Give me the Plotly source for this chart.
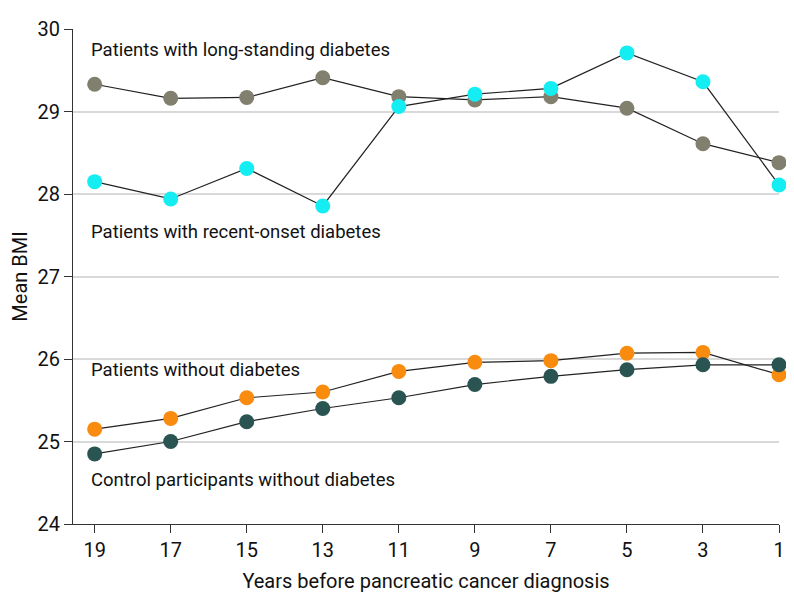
import plotly.graph_objects as go

years = [19, 17, 15, 13, 11, 9, 7, 5, 3, 1]
long_standing = [29.33, 29.16, 29.17, 29.41, 29.18, 29.14, 29.18, 29.04, 28.61, 28.38]
recent_onset = [28.15, 27.94, 28.31, 27.855, 29.06, 29.21, 29.28, 29.71, 29.36, 28.11]
without_diab = [25.15, 25.28, 25.53, 25.60, 25.85, 25.96, 25.98, 26.07, 26.08, 25.81]
controls = [24.85, 25.00, 25.24, 25.40, 25.53, 25.69, 25.79, 25.87, 25.93, 25.93]

series = [
    ("Patients with long-standing diabetes", long_standing, "#817f6d", 29.75),
    ("Patients with recent-onset diabetes", recent_onset, "#14eef2", 27.54),
    ("Patients without diabetes", without_diab, "#f98b0e", 25.87),
    ("Control participants without diabetes", controls, "#2a5451", 24.53),
]

FONT = "Roboto"
fig = go.Figure()
for name, vals, color, ly in series:
    fig.add_trace(go.Scatter(
        x=years, y=vals, mode="lines+markers", name=name,
        line=dict(color="#222222", width=1.2),
        marker=dict(color=color, size=15, line=dict(width=0)),
        showlegend=False, cliponaxis=False,
    ))
    fig.add_annotation(text=name, xref="paper", x=0.022, xanchor="left",
                       yref="y", y=ly, yanchor="middle", showarrow=False,
                       font=dict(family=FONT, size=18.5, color="#111111"))

fig.update_layout(
    width=794, height=609,
    margin=dict(l=65, r=23, t=21, b=93, autoexpand=False),
    plot_bgcolor="white", paper_bgcolor="white",
    font=dict(family=FONT, size=18, color="#111111"),
    xaxis=dict(
        range=[19.57, 1], tickvals=years, ticktext=[str(y) for y in years],
        showgrid=False, zeroline=False, showline=True, linecolor="#333333", linewidth=1,
        ticks="outside", ticklen=8, tickcolor="#333333",
        title=dict(text="Years before pancreatic cancer diagnosis", standoff=12,
                   font=dict(size=20)),
        tickfont=dict(size=20),
    ),
    yaxis=dict(
        range=[24, 30], tickvals=[24, 25, 26, 27, 28, 29, 30],
        showgrid=True, gridcolor="#d9d9d9", gridwidth=1.5, zeroline=False,
        showline=True, linecolor="#333333", linewidth=1,
        ticks="outside", ticklen=8, tickcolor="#333333",
        title=dict(text="Mean BMI", standoff=10, font=dict(size=20)),
        tickfont=dict(size=20),
    ),
)
fig.write_html("out.html")
